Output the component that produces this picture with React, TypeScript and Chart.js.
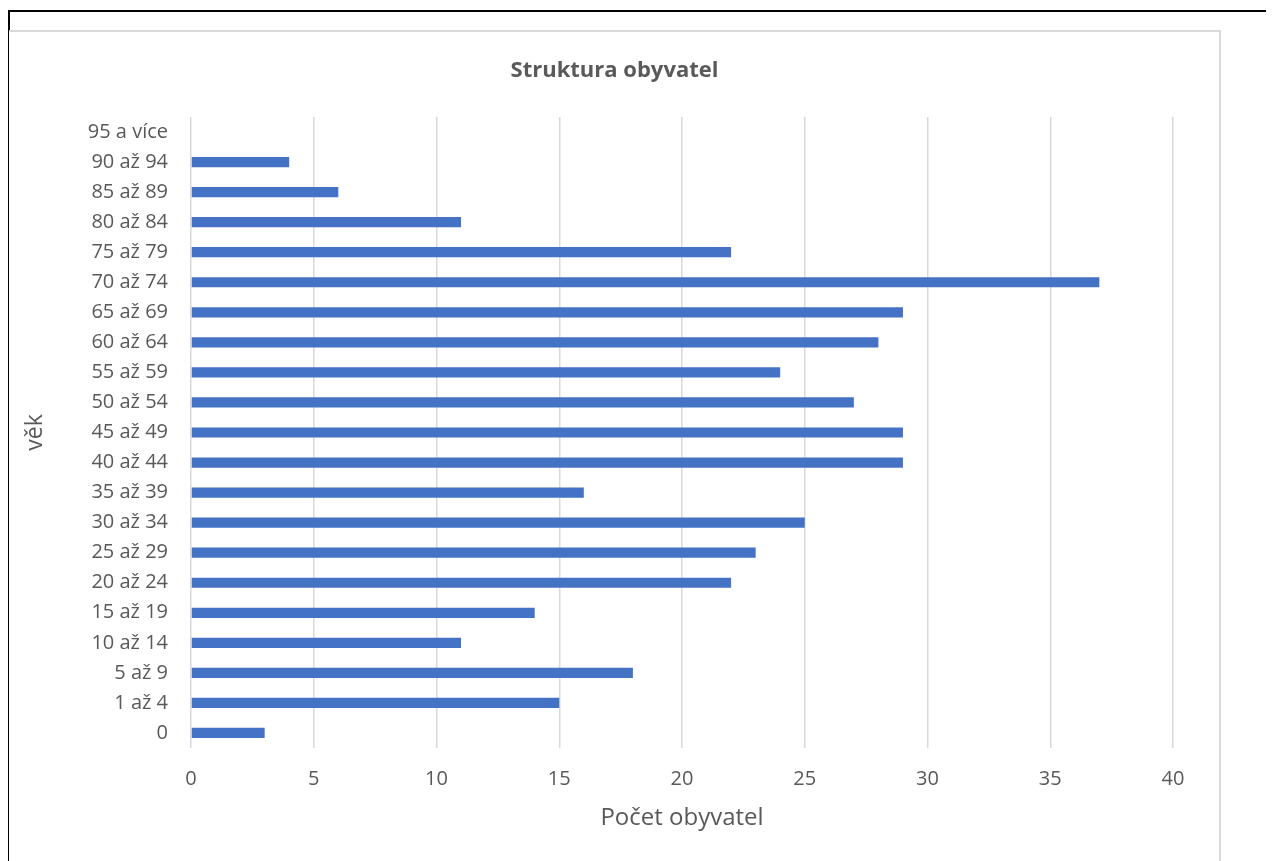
import React, { useEffect, useRef } from "react";
import { Chart, registerables } from "chart.js";

Chart.register(...registerables);

const categories = [
  "0", "1 až 4", "5 až 9", "10 až 14", "15 až 19", "20 až 24", "25 až 29",
  "30 až 34", "35 až 39", "40 až 44", "45 až 49", "50 až 54", "55 až 59",
  "60 až 64", "65 až 69", "70 až 74", "75 až 79", "80 až 84", "85 až 89",
  "90 až 94", "95 a více",
];
const population = [3, 15, 18, 11, 14, 22, 23, 25, 16, 29, 29, 27, 24, 28, 29, 37, 22, 11, 6, 4, 0];
const chartTitle = "Struktura obyvatel";
const xTitle = "Počet obyvatel";
const yTitle = "věk";

const FONT = "'Open Sans', sans-serif";
const TEXT = "#595959";
const GRID = "#d9d9d9";

const centeredTitle = {
  id: "centeredTitle",
  afterDraw(chart: any) {
    const ctx = chart.ctx;
    ctx.save();
    ctx.fillStyle = TEXT;
    ctx.font = "bold 22px 'Open Sans', sans-serif";
    ctx.textAlign = "center";
    ctx.textBaseline = "middle";
    ctx.fillText(chartTitle, chart.width / 2, 39);
    ctx.restore();
  },
};

export default function App() {
  const ref = useRef<HTMLCanvasElement | null>(null);

  useEffect(() => {
    document.body.style.overflow = "hidden";
    document.documentElement.style.overflow = "hidden";
    const canvas = ref.current;
    if (!canvas) return;
    const chart = new Chart(canvas, {
      type: "bar",
      data: {
        labels: categories,
        datasets: [
          {
            label: "Počet",
            data: population,
            backgroundColor: "#4472C4",
            borderWidth: 0,
            barPercentage: 0.34,
            categoryPercentage: 1,
          },
        ],
      },
      plugins: [centeredTitle],
      options: {
        indexAxis: "y",
        animation: false,
        responsive: false,
        devicePixelRatio: 1,
        layout: { padding: { left: 0, right: 45, top: 85, bottom: 0 } },
        plugins: {
          legend: { display: false },
          tooltip: { enabled: false },
          title: { display: false },
        },
        scales: {
          x: {
            type: "linear",
            min: 0,
            max: 40,
            ticks: {
              stepSize: 5,
              color: TEXT,
              font: { family: FONT, size: 20, lineHeight: 1.2 },
              padding: 19,
              maxRotation: 0,
            },
            grid: { color: GRID, lineWidth: 1.5, drawTicks: false },
            border: { display: false },
            title: {
              display: true,
              text: xTitle,
              color: TEXT,
              font: { family: FONT, size: 24, lineHeight: 1.2 },
              padding: { top: 0, bottom: 28.6 },
            },
            afterFit: (scale: any) => {
              scale.height = 113;
            },
          },
          y: {
            type: "category",
            reverse: true,
            ticks: {
              color: TEXT,
              font: { family: FONT, size: 20, lineHeight: 1.2 },
              padding: 23,
              autoSkip: false,
            },
            grid: { display: false, drawTicks: false },
            border: { display: false },
            title: {
              display: true,
              text: yTitle,
              color: TEXT,
              font: { family: FONT, size: 23, lineHeight: 1.2 },
              padding: { top: 10.2, bottom: 0 },
            },
            afterFit: (scale: any) => {
              scale.width = 180;
            },
          },
        },
      },
    });
    return () => chart.destroy();
  }, []);

  return (
    <div style={{ position: "relative", width: 1266, height: 853, overflow: "hidden" }}>
      <div
        style={{
          position: "absolute",
          left: 0,
          top: 2,
          width: 1266,
          height: 851,
          borderTop: "2px solid #000",
          borderLeft: "2px solid #000",
          boxSizing: "border-box",
        }}
      />
      <div
        style={{
          position: "absolute",
          left: 1,
          top: 22,
          width: 1212,
          height: 900,
          border: "2px solid " + GRID,
          borderLeft: "none",
          boxSizing: "border-box",
          background: "#fff",
        }}
      />
      <canvas
        ref={ref}
        width={1207}
        height={829}
        style={{ position: "absolute", left: 3, top: 24, width: 1207, height: 829 }}
      />
    </div>
  );
}
